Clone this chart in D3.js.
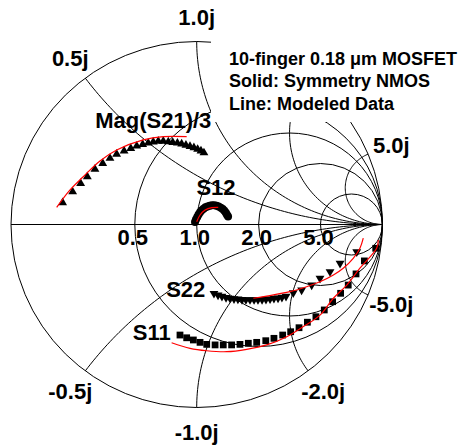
<!DOCTYPE html>
<html>
<head>
<meta charset="utf-8">
<script src="https://cdn.jsdelivr.net/npm/d3@7"></script>
<style>
  body { margin: 0; background: #fff; }
  text { font-family: "Liberation Sans", Arial, sans-serif; font-weight: bold; fill: #000; }
</style>
</head>
<body>
<svg id="chart" width="459" height="446"></svg>
<script>
// ----- grid values (normalized resistance / reactance)
const resistances = [0.5, 1, 2, 5];
const resistanceLabels = ['0.5', '1.0', '2.0', '5.0'];
const reactances = [0.5, 1, 2, 5, -0.5, -1, -2, -5];
const reactanceLabels = ['0.5j', '1.0j', '2.0j', '5.0j', '-0.5j', '-1.0j', '-2.0j', '-5.0j'];
const labelledReactances = [0.5, 1, 5, -0.5, -1, -2, -5]; // 2.0j hidden by legend

// ----- measured data, reflection coefficient [re, im]
const s21Measured = [
    [-0.722, 0.119], [-0.668, 0.179], [-0.625, 0.225], [-0.589, 0.261], [-0.548, 0.302],
    [-0.506, 0.334], [-0.467, 0.362], [-0.431, 0.384], [-0.391, 0.402], [-0.355, 0.416],
    [-0.323, 0.429], [-0.291, 0.438], [-0.261, 0.445], [-0.234, 0.451], [-0.207, 0.455],
    [-0.180, 0.455], [-0.153, 0.452], [-0.129, 0.449], [-0.104, 0.445], [-0.081, 0.440],
    [-0.058, 0.434], [-0.036, 0.427], [-0.015, 0.420], [0.005, 0.411], [0.023, 0.402],
    [0.039, 0.392]
];
const s12Measured = [
    [-0.009, 0.014], [-0.004, 0.027], [0.003, 0.041], [0.010, 0.055], [0.018, 0.067],
    [0.027, 0.078], [0.037, 0.086], [0.047, 0.094], [0.058, 0.099], [0.070, 0.103],
    [0.082, 0.105], [0.095, 0.105], [0.107, 0.103], [0.118, 0.098], [0.130, 0.092],
    [0.140, 0.085], [0.149, 0.075], [0.157, 0.064], [0.163, 0.053], [0.169, 0.044]
];
const s22Measured = [
    [0.862, -0.149], [0.772, -0.212], [0.718, -0.258], [0.664, -0.294], [0.619, -0.331],
    [0.565, -0.358], [0.520, -0.373], [0.481, -0.393], [0.459, -0.398], [0.438, -0.402],
    [0.416, -0.404], [0.395, -0.407], [0.373, -0.409], [0.352, -0.410], [0.330, -0.411],
    [0.309, -0.411], [0.287, -0.411], [0.265, -0.411], [0.244, -0.410], [0.222, -0.408],
    [0.201, -0.406], [0.179, -0.403], [0.158, -0.399], [0.136, -0.393], [0.115, -0.386],
    [0.093, -0.377]
];
const s11Measured = [
    [0.964, -0.130], [0.903, -0.199], [0.858, -0.270], [0.816, -0.331], [0.775, -0.376],
    [0.732, -0.422], [0.687, -0.467], [0.642, -0.504], [0.596, -0.534], [0.551, -0.564],
    [0.506, -0.586], [0.463, -0.604], [0.416, -0.622], [0.372, -0.635], [0.323, -0.644],
    [0.278, -0.649], [0.233, -0.655], [0.188, -0.658], [0.143, -0.658], [0.099, -0.658],
    [0.054, -0.655], [0.018, -0.644], [-0.018, -0.631], [-0.054, -0.619], [-0.090, -0.604]
];

// ----- modeled data
const s21Model = [
    [-0.754, 0.094], [-0.682, 0.189], [-0.611, 0.261], [-0.521, 0.347], [-0.431, 0.407],
    [-0.288, 0.462], [-0.180, 0.480], [-0.054, 0.480]
];
const s12Model = [[0.000, 0.015], [0.018, 0.052], [0.045, 0.079], [0.081, 0.092], [0.116, 0.094]];
const s22Model = [
    [0.897, -0.075], [0.879, -0.130], [0.843, -0.185], [0.789, -0.239], [0.736, -0.276],
    [0.664, -0.313], [0.592, -0.340], [0.502, -0.367], [0.377, -0.391], [0.305, -0.403]
];
const s11Model = [
    [0.978, -0.085], [0.969, -0.130], [0.879, -0.239], [0.808, -0.331], [0.736, -0.403],
    [0.664, -0.495], [0.574, -0.558], [0.485, -0.613], [0.377, -0.658], [0.269, -0.682],
    [0.162, -0.695], [0.054, -0.690], [-0.036, -0.677], [-0.135, -0.646]
];

// curve annotations, anchored in the reflection plane
const curveLabels = [
    { text: 'Mag(S21)/3', at: [-0.234, 0.527] },
    { text: 'S12', at: [0.104, 0.161] },
    { text: 'S22', at: [-0.059, -0.396] },
    { text: 'S11', at: [-0.242, -0.631] }
];
const legendLines = ['10-finger 0.18 \u03bcm MOSFET', 'Solid: Symmetry NMOS', 'Line: Modeled Data'];

const svg = d3.select('#chart');

// reflection plane -> pixels
const x = d3.scaleLinear().domain([-1, 1]).range([11, 382.4]);
const y = d3.scaleLinear().domain([-1, 1]).range([407.5, 41.5]);

const line = d3.line().x(d => x(d[0])).y(d => y(d[1]));
const smooth = d3.line().x(d => x(d[0])).y(d => y(d[1])).curve(d3.curveCatmullRom);

const grid = svg.append('g')
    .attr('fill', 'none')
    .attr('stroke', '#000')
    .attr('stroke-width', 1);

// outer circle
grid.append('ellipse')
    .attr('cx', x(0)).attr('cy', y(0))
    .attr('rx', x(1) - x(0)).attr('ry', y(0) - y(1));

// real axis
grid.append('path').attr('d', line([[-1, 0], [1, 0]]));

// constant resistance circles
grid.selectAll('.res')
    .data(resistances)
    .enter()
    .append('ellipse')
    .attr('cx', r => x(r / (r + 1)))
    .attr('cy', y(0))
    .attr('rx', r => x(1 / (r + 1)) - x(0))
    .attr('ry', r => y(0) - y(1 / (r + 1)));

// constant reactance arcs, from the rim to the open-circuit point
function reactanceArc(xv) {
    const a = Math.abs(xv);
    const rad = 1 / a;
    const px = (a * a - 1) / (a * a + 1), py = 2 * a / (a * a + 1);
    let t0 = Math.atan2(py - rad, px - 1);
    if (t0 < 0) t0 += 2 * Math.PI;
    const t1 = 1.5 * Math.PI;
    return d3.range(0, 1.0001, 1 / 80).map(k => {
        const t = t0 + (t1 - t0) * k;
        const im = rad + rad * Math.sin(t);
        return [1 + rad * Math.cos(t), xv > 0 ? im : -im];
    });
}

grid.selectAll('.reac')
    .data(reactances)
    .enter()
    .append('path')
    .attr('d', xv => line(reactanceArc(xv)));

// legend background hides the chart behind the notes
svg.append('rect').attr('x', 211).attr('y', 0).attr('width', 248).attr('height', 122).attr('fill', '#fff');

// ----- measured markers
const tri = d3.symbol().type(d3.symbolTriangle).size(34);
const sq = d3.symbol().type(d3.symbolSquare).size(46);

svg.append('g').selectAll('path')
    .data(s21Measured)
    .enter()
    .append('path')
    .attr('d', tri)
    .attr('transform', d => `translate(${x(d[0])},${y(d[1])})`);

svg.append('g').selectAll('path')
    .data(s22Measured)
    .enter()
    .append('path')
    .attr('d', tri)
    .attr('transform', d => `translate(${x(d[0])},${y(d[1])}) rotate(180)`);

svg.append('g').selectAll('path')
    .data(s11Measured)
    .enter()
    .append('path')
    .attr('d', sq)
    .attr('transform', d => `translate(${x(d[0])},${y(d[1])})`);

svg.append('g').selectAll('circle')
    .data(s12Measured)
    .enter()
    .append('circle')
    .attr('cx', d => x(d[0]))
    .attr('cy', d => y(d[1]))
    .attr('r', 4);

// ----- modeled lines
svg.append('g')
    .attr('fill', 'none')
    .attr('stroke', '#ff0000')
    .attr('stroke-width', 1.2)
    .selectAll('path')
    .data([s21Model, s12Model, s22Model, s11Model])
    .enter()
    .append('path')
    .attr('d', smooth);

// ----- labels
const labelRadius = 1.135;
svg.append('g').selectAll('text')
    .data(labelledReactances)
    .enter()
    .append('text')
    .attr('text-anchor', 'middle')
    .attr('dy', '0.36em')
    .attr('font-size', 22)
    .attr('x', xv => x(labelRadius * (xv * xv - 1) / (xv * xv + 1)))
    .attr('y', xv => y(labelRadius * 2 * xv / (xv * xv + 1)))
    .text(xv => reactanceLabels[reactances.indexOf(xv)]);

svg.append('g').selectAll('text')
    .data(resistances)
    .enter()
    .append('text')
    .attr('text-anchor', 'middle')
    .attr('font-size', 22)
    .attr('x', r => x((r - 1) / (r + 1)) - 2)
    .attr('y', y(0) + 20.5)
    .text((r, i) => resistanceLabels[i]);

svg.append('g').selectAll('text')
    .data(curveLabels)
    .enter()
    .append('text')
    .attr('text-anchor', 'middle')
    .attr('font-size', 22)
    .attr('x', d => x(d.at[0]))
    .attr('y', d => y(d.at[1]))
    .text(d => d.text);

svg.append('g').selectAll('text')
    .data(legendLines)
    .enter()
    .append('text')
    .attr('font-size', 18)
    .attr('x', 229)
    .attr('y', (d, i) => 65 + i * 22.3)
    .text(d => d);
</script>
</body>
</html>
